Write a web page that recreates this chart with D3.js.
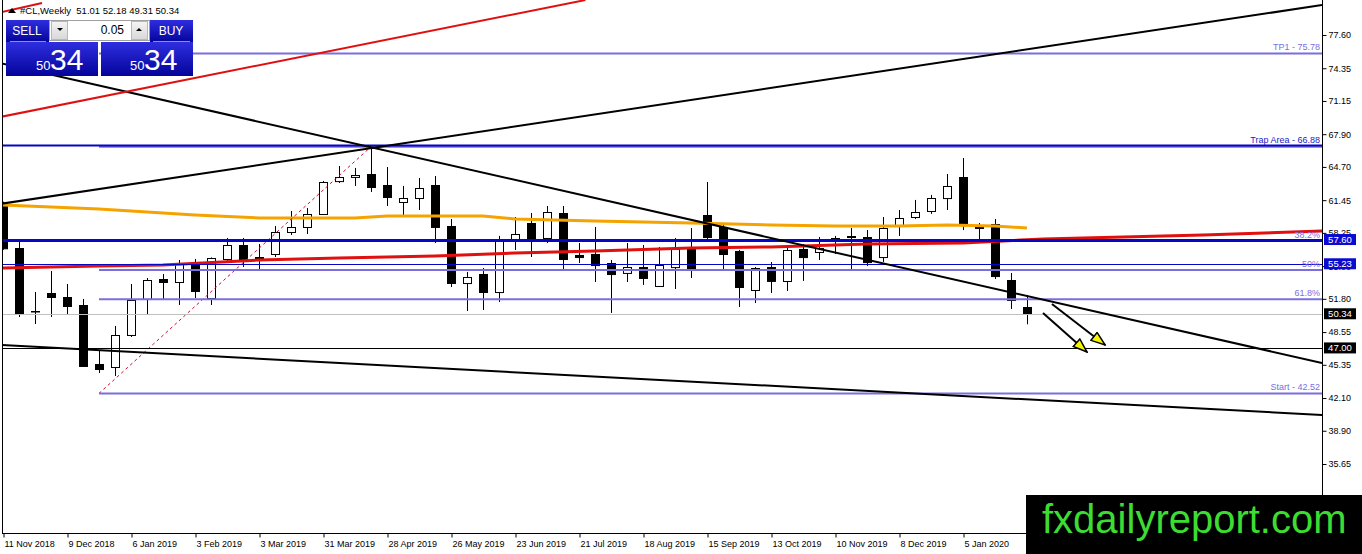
<!DOCTYPE html>
<html>
<head>
<meta charset="utf-8">
<script src="https://cdn.jsdelivr.net/npm/d3@7"></script>
<style>
body { margin: 0; background: #fff; overflow: hidden; }
text { font-family: "Liberation Sans", Arial, sans-serif; }
</style>
</head>
<body>
<svg id="chart" width="1362" height="554"></svg>
<script>
// weekly #CL candles, 11 Nov 2018 .. 2 Feb 2020
var open  = [61.00,56.77,50.61,52.37,51.98,51.20,45.43,45.14,48.27,51.79,53.74,53.45,55.21,51.88,55.70,57.07,55.79,56.19,58.34,58.83,60.10,63.32,63.72,64.01,62.93,61.27,61.66,62.93,58.92,53.35,54.23,52.47,57.65,59.22,57.75,60.20,56.09,56.19,55.31,54.33,54.91,53.06,54.91,56.68,60.00,58.83,56.48,52.67,54.91,53.55,56.68,56.38,57.56,57.95,57.85,55.89,59.02,59.80,60.39,61.66,63.72,58.92,59.12,53.64,51.01];
var high  = [61.30,57.46,52.47,54.52,53.25,51.79,46.80,49.15,53.25,53.84,54.23,55.60,55.70,55.85,57.75,57.75,57.16,58.92,60.39,60.68,63.32,64.79,64.60,66.55,64.69,62.84,63.62,63.81,59.61,54.43,54.82,57.95,59.80,60.20,60.88,60.88,57.26,58.83,55.60,57.26,57.07,56.87,57.75,58.73,63.23,59.02,56.58,54.91,55.40,57.07,57.16,57.85,57.95,58.73,58.53,59.80,60.49,61.47,61.96,64.01,65.57,59.22,59.61,54.33,52.18];
var low   = [56.60,50.03,49.34,50.03,50.22,45.14,44.55,44.26,48.07,50.22,51.79,51.20,51.88,51.20,55.31,54.91,54.62,55.89,58.04,58.14,60.00,63.13,62.84,62.25,60.88,60.00,60.49,57.26,52.96,50.61,50.71,51.49,56.58,55.89,57.26,54.62,55.31,53.45,50.42,53.45,53.16,52.96,52.76,53.84,57.56,54.62,51.00,51.39,52.37,52.57,53.55,55.60,56.19,54.62,55.01,55.40,57.95,59.61,60.10,60.49,58.53,57.65,53.74,50.81,49.31];
var close = [56.77,50.32,50.65,51.98,51.10,45.24,44.94,48.27,51.69,53.64,53.45,55.21,52.57,55.79,57.07,55.60,55.89,58.34,58.83,60.10,63.23,63.72,63.91,62.74,61.76,61.66,62.64,58.83,53.35,53.94,52.47,57.46,58.14,57.65,60.29,55.70,55.89,55.11,54.23,54.91,53.84,55.11,56.68,54.72,57.85,56.19,52.96,54.82,53.55,56.58,55.89,56.77,57.75,57.85,55.40,58.73,59.71,60.29,61.66,62.84,59.12,58.73,54.03,51.69,50.34];

var dateTickIdx = [0,4,8,12,16,20,24,28,32,36,40,44,48,52,56,60];
var dateLabels = ["11 Nov 2018","9 Dec 2018","6 Jan 2019","3 Feb 2019","3 Mar 2019","31 Mar 2019","28 Apr 2019","26 May 2019","23 Jun 2019","21 Jul 2019","18 Aug 2019","15 Sep 2019","13 Oct 2019","10 Nov 2019","8 Dec 2019","5 Jan 2020"];
var priceTicks = [77.60,74.35,71.15,67.90,64.70,61.45,58.25,55.00,51.80,48.55,45.35,42.10,38.90,35.65,32.40];

// moving averages (bar index, price)
var maOrangeIdx = [0,6,12,16,22,24,30,32,37,43,48,52,56,59,62,64];
var maOrangeVal = [60.98,60.59,60.00,59.71,59.71,59.90,59.90,59.61,59.41,59.22,59.02,58.92,58.92,59.02,58.92,58.73];
var maRedIdx = [0,6,10,16,21,27,32,37,43,48,54,60,65,75,82.5];
var maRedVal = [54.82,55.01,55.11,55.60,55.79,55.99,56.28,56.48,56.77,56.87,57.16,57.26,57.65,58.04,58.44];

// fibonacci levels (start at bar 6)
var fibNames  = ["TP1 - 75.78","","38.2%","50%","61.8%","Start - 42.52"];
var fibPrices = [75.80,66.68,57.47,54.62,51.75,42.55];
var fibStartIdx = 6, fibEndIdx = 23;

// full-width level lines
var levelPrices = [66.88,57.60,55.23,50.34,47.00];
var levelColors = ["#0606c4","#0606c4","#0606c4","#c0c0c0","#000"];
var levelWidths = [2,3,1,1,1];
var boxPrices = [57.60,55.23,50.34,47.00];
var boxColors = ["#0a0ad0","#0a0ad0","#000","#000"];

// trend lines [idx0, price0, idx1, price1]
var trendBlack = [[-0.19,74.86,82.44,45.53],[-0.19,61.08,82.44,80.53],[-0.19,47.29,82.44,40.44]];
var trendRed = [[-0.19,69.58,36.4,81.02],[-0.19,79.80,2.44,80.73]];
var arrowStartIdx = [65.0,65.56], arrowStartVal = [50.42,51.30];
var arrowEndIdx = [67.75,68.88], arrowEndVal = [46.60,47.29];

var svg = d3.select("#chart");
var plotR = 1322, plotB = 533;

var x = d3.scaleLinear().domain([0, 64]).range([3, 1027]);
var y = d3.scaleLinear().domain([77.60, 35.65]).range([35, 464]);

svg.append("defs").append("clipPath").attr("id","plot")
	.append("rect").attr("x",2).attr("y",0).attr("width",plotR-2).attr("height",plotB);
var defs = svg.select("defs");
defs.append("marker").attr("id","ah")
	.attr("viewBox","0 0 16 12").attr("refX",15).attr("refY",6)
	.attr("markerWidth",16).attr("markerHeight",12)
	.attr("markerUnits","userSpaceOnUse").attr("orient","auto")
	.append("path").attr("d","M1,1 L15,6 L1,11 Z")
	.attr("fill","#f4f400").attr("stroke","#000").attr("stroke-width",1.5);

var g = svg.append("g").attr("clip-path","url(#plot)");

// candles
var idx = d3.range(open.length);
var c = g.append("g").selectAll("g").data(idx).enter().append("g");
c.append("line")
	.attr("x1", function(i){ return x(i)+0.5; }).attr("x2", function(i){ return x(i)+0.5; })
	.attr("y1", function(i){ return y(high[i]); }).attr("y2", function(i){ return y(low[i]); })
	.attr("stroke","#000");
c.append("rect")
	.attr("x", function(i){ return x(i)-3.5; })
	.attr("width", 8)
	.attr("y", function(i){ return Math.round(y(Math.max(open[i],close[i])))+0.5; })
	.attr("height", function(i){ return Math.max(0.5, Math.abs(y(open[i])-y(close[i]))); })
	.attr("fill", function(i){ return close[i] >= open[i] ? "#fff" : "#000"; })
	.attr("stroke","#000");

var lineGen = d3.line().x(function(d){ return x(d[0]); }).y(function(d){ return y(d[1]); });

// moving averages
g.append("path").datum(d3.zip(maOrangeIdx, maOrangeVal))
	.attr("d", lineGen).attr("fill","none").attr("stroke","#f5a300").attr("stroke-width",3);
g.append("path").datum(d3.zip(maRedIdx, maRedVal))
	.attr("d", lineGen).attr("fill","none").attr("stroke","#e01010").attr("stroke-width",3);

// fib anchor (dashed red)
g.append("line")
	.attr("x1", x(fibStartIdx)).attr("y1", y(fibPrices[5]))
	.attr("x2", x(fibEndIdx)).attr("y2", y(fibPrices[1]))
	.attr("stroke","#c8102e").attr("stroke-dasharray","3,3");

// fib levels
g.append("g").selectAll("line").data(fibPrices).enter().append("line")
	.attr("x1", x(fibStartIdx)).attr("x2", plotR)
	.attr("y1", function(d){ return y(d); }).attr("y2", function(d){ return y(d); })
	.attr("stroke","#7b6fe0").attr("stroke-width",2);

// level lines
g.append("g").selectAll("line").data(levelPrices).enter().append("line")
	.attr("x1", 2).attr("x2", plotR)
	.attr("y1", function(d){ return Math.round(y(d))+0.5; }).attr("y2", function(d){ return Math.round(y(d))+0.5; })
	.attr("stroke", function(d,i){ return levelColors[i]; })
	.attr("stroke-width", function(d,i){ return levelWidths[i]; });

// trend lines
g.append("g").selectAll("line").data(trendBlack).enter().append("line")
	.attr("x1", function(d){ return x(d[0]); }).attr("y1", function(d){ return y(d[1]); })
	.attr("x2", function(d){ return x(d[2]); }).attr("y2", function(d){ return y(d[3]); })
	.attr("stroke","#000").attr("stroke-width",2);
g.append("g").selectAll("line").data(trendRed).enter().append("line")
	.attr("x1", function(d){ return x(d[0]); }).attr("y1", function(d){ return y(d[1]); })
	.attr("x2", function(d){ return x(d[2]); }).attr("y2", function(d){ return y(d[3]); })
	.attr("stroke","#e01010").attr("stroke-width",2);

// arrows
g.append("g").selectAll("line").data(arrowStartIdx).enter().append("line")
	.attr("x1", function(d){ return x(d); }).attr("y1", function(d,i){ return y(arrowStartVal[i]); })
	.attr("x2", function(d,i){ return x(arrowEndIdx[i]); }).attr("y2", function(d,i){ return y(arrowEndVal[i]); })
	.attr("stroke","#000").attr("stroke-width",2).attr("marker-end","url(#ah)");

// fib labels
g.append("g").selectAll("text").data(fibPrices).enter().append("text")
	.attr("x", plotR-2).attr("y", function(d){ return y(d)-3; })
	.attr("text-anchor","end").attr("font-size",9).attr("fill","#7b6fe0")
	.text(function(d,i){ return fibNames[i]; });
g.append("text").attr("x", plotR-2).attr("y", y(levelPrices[0])-2)
	.attr("text-anchor","end").attr("font-size",9).attr("fill","#1a1ac8")
	.text("Trap Area - 66.88");

// frame
svg.append("line").attr("x1",2.5).attr("x2",2.5).attr("y1",0).attr("y2",plotB).attr("stroke","#000");
svg.append("line").attr("x1",plotR+0.5).attr("x2",plotR+0.5).attr("y1",0).attr("y2",plotB).attr("stroke","#000");
svg.append("line").attr("x1",2).attr("x2",plotR).attr("y1",plotB+0.5).attr("y2",plotB+0.5).attr("stroke","#000");

// price axis
var ya = svg.append("g").attr("transform","translate(" + (plotR+0.5) + ",0)")
	.call(d3.axisRight(y).tickValues(priceTicks).tickSize(4).tickFormat(d3.format(".2f")));
ya.select(".domain").remove();
ya.selectAll("text").attr("font-size",9).attr("font-family","Liberation Sans, Arial, sans-serif").attr("x",6);

var bx = svg.append("g").selectAll("g").data(boxPrices).enter().append("g");
bx.append("rect").attr("x", plotR+2).attr("width",32)
	.attr("y", function(d){ return y(d)-5.5; }).attr("height",11)
	.attr("fill", function(d,i){ return boxColors[i]; });
bx.append("text").attr("x", plotR+18).attr("y", function(d){ return y(d)+3.5; })
	.attr("text-anchor","middle").attr("font-size",9.5).attr("fill","#fff")
	.text(function(d){ return d3.format(".2f")(d); });

// time axis
var xa = svg.append("g").attr("transform","translate(0," + (plotB+0.5) + ")")
	.call(d3.axisBottom(x).tickValues(dateTickIdx).tickSize(4)
		.tickFormat(function(d,k){ return dateLabels[k]; }));
xa.select(".domain").remove();
xa.selectAll("text").attr("font-size",9).attr("font-family","Liberation Sans, Arial, sans-serif")
	.attr("text-anchor","start").attr("dx",1);
xa.selectAll("line").attr("transform","translate(0.5,0)");

// title
svg.append("path").attr("d","M8,13 L12,8 L16,13 Z").attr("fill","#000");
svg.append("text").attr("x",20).attr("y",14).attr("font-size",9.5).attr("fill","#000")
	.attr("xml:space","preserve").text("#CL,Weekly  51.01 52.18 49.31 50.34");

// one click trading panel
var grad = defs.append("linearGradient").attr("id","bg").attr("x1",0).attr("y1",0).attr("x2",0).attr("y2",1);
grad.append("stop").attr("offset","0").attr("stop-color","#2e2ee0");
grad.append("stop").attr("offset","1").attr("stop-color","#04049a");
var gg = defs.append("linearGradient").attr("id","gb").attr("x1",0).attr("y1",0).attr("x2",0).attr("y2",1);
gg.append("stop").attr("offset","0").attr("stop-color","#f4f4f4");
gg.append("stop").attr("offset","1").attr("stop-color","#d8d8d8");

var p = svg.append("g");
p.append("rect").attr("x",6).attr("y",20).attr("width",43).attr("height",22).attr("fill","url(#bg)");
p.append("rect").attr("x",150).attr("y",20).attr("width",43).attr("height",22).attr("fill","url(#bg)");
p.append("rect").attr("x",6).attr("y",42).attr("width",92).attr("height",34).attr("fill","url(#bg)");
p.append("rect").attr("x",101).attr("y",42).attr("width",92).attr("height",34).attr("fill","url(#bg)");
p.append("line").attr("x1",10).attr("x2",46).attr("y1",41.5).attr("y2",41.5).attr("stroke","#8a8af0");
p.append("line").attr("x1",153).attr("x2",190).attr("y1",41.5).attr("y2",41.5).attr("stroke","#8a8af0");
p.append("rect").attr("x",49.5).attr("y",20.5).attr("width",100).attr("height",20).attr("fill","#fff").attr("stroke","#a0a0a0");
p.append("rect").attr("x",51.5).attr("y",21.5).attr("width",16).attr("height",18).attr("fill","url(#gb)").attr("stroke","#b8b8b8");
p.append("rect").attr("x",131.5).attr("y",21.5).attr("width",16).attr("height",18).attr("fill","url(#gb)").attr("stroke","#b8b8b8");
p.append("path").attr("d","M57,28 L63,28 L60,31 Z").attr("fill","#000");
p.append("path").attr("d","M136,31 L142,31 L139,28 Z").attr("fill","#000");
p.append("text").attr("x",124).attr("y",34).attr("text-anchor","end").attr("font-size",12).text("0.05");
p.append("text").attr("x",27).attr("y",35).attr("text-anchor","middle").attr("font-size",12).attr("fill","#fff").text("SELL");
p.append("text").attr("x",171).attr("y",35).attr("text-anchor","middle").attr("font-size",12).attr("fill","#fff").text("BUY");
p.append("text").attr("x",36).attr("y",70).attr("font-size",13).attr("fill","#fff").text("50");
p.append("text").attr("x",50).attr("y",70).attr("font-size",30).attr("fill","#fff").text("34");
p.append("text").attr("x",130).attr("y",70).attr("font-size",13).attr("fill","#fff").text("50");
p.append("text").attr("x",144).attr("y",70).attr("font-size",30).attr("fill","#fff").text("34");

// watermark
svg.append("rect").attr("x",1026).attr("y",495).attr("width",336).attr("height",59).attr("fill","#000");
svg.append("text").attr("x",1042).attr("y",533).attr("font-size",40).attr("fill","#3ddc32").text("fxdailyreport.com");
</script>
</body>
</html>
